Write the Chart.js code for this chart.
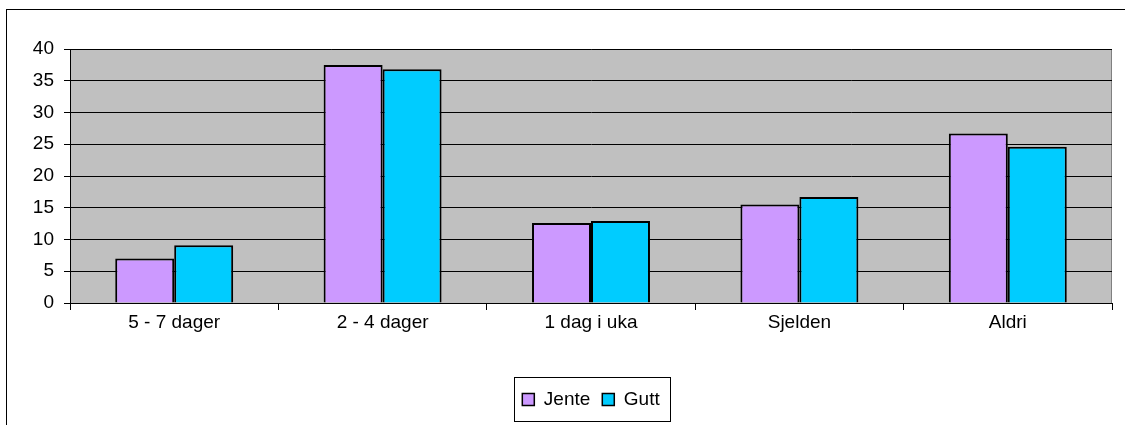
<!DOCTYPE html>
<html>
<head>
<meta charset="utf-8">
<script src="https://cdn.jsdelivr.net/npm/chart.js@4/dist/chart.umd.min.js"></script>
<style>
  html, body { margin: 0; padding: 0; background: #fff; overflow: hidden; }
  #wrap { position: relative; width: 1125px; height: 425px; }
  #frame { position: absolute; left: 6px; top: 9px; width: 1130px; height: 430px;
           border-left: 1px solid #000; border-top: 1px solid #000; pointer-events: none; }
  canvas { position: absolute; left: 0; top: 0; }
</style>
</head>
<body>
<div id="wrap">
  <canvas id="chart" width="1125" height="425"></canvas>
  <div id="frame"></div>
</div>
<script>
const categories = ['5 - 7 dager', '2 - 4 dager', '1 dag i uka', 'Sjelden', 'Aldri'];
const jente = [7.0, 37.5, 12.6, 15.5, 26.7];
const gutt = [9.1, 36.8, 12.9, 16.7, 24.6];

const FONT = { family: '"Liberation Sans", Arial, sans-serif', size: 19 };

// grey plot area like the old Excel charts
const plotBackground = {
    id: 'plotBackground',
    beforeDraw(chart) {
        const { ctx, chartArea: { left, top, right, bottom } } = chart;
        ctx.save();
        ctx.fillStyle = '#c0c0c0';
        ctx.fillRect(left, top, right - left, bottom - top);
        ctx.strokeStyle = '#808080';
        ctx.lineWidth = 1;
        ctx.strokeRect(left + 0.5, top + 0.5, right - left - 1, bottom - top);
        ctx.restore();
    }
};

// black box around the legend
const legendBox = {
    id: 'legendBox',
    afterDraw(chart) {
        const boxes = chart.legend.legendHitBoxes;
        if (!boxes || !boxes.length) return;
        const first = boxes[0];
        const last = boxes[boxes.length - 1];
        const { ctx } = chart;
        ctx.save();
        ctx.strokeStyle = '#000';
        ctx.lineWidth = 1;
        const x0 = Math.round(first.left - 8) + 0.5;
        const x1 = Math.round(last.left + last.width + 10) + 0.5;
        const y0 = Math.round(first.top - 13) + 0.5;
        const y1 = Math.round(first.top + first.height + 12) + 0.5;
        ctx.strokeRect(x0, y0, x1 - x0, y1 - y0);
        ctx.restore();
    }
};

new Chart(document.getElementById('chart').getContext('2d'), {
    type: 'bar',
    data: {
        labels: categories,
        datasets: [
            { label: 'Jente', data: jente, backgroundColor: '#cc99ff', borderColor: '#000', borderWidth: 2 },
            { label: 'Gutt', data: gutt, backgroundColor: '#00ccff', borderColor: '#000', borderWidth: 2 }
        ]
    },
    options: {
        responsive: false,
        animation: false,
        devicePixelRatio: 1,
        layout: { padding: { left: 0, right: 13, top: 49, bottom: 6 } },
        datasets: { bar: { barPercentage: 1, categoryPercentage: 0.566 } },
        plugins: {
            tooltip: { enabled: false },
            legend: {
                position: 'bottom',
                fullSize: false,
                labels: {
                    font: FONT,
                    color: '#000',
                    boxWidth: 12,
                    boxHeight: 12,
                    padding: 12,
                    generateLabels(chart) {
                        return chart.data.datasets.map((ds, i) => ({
                            text: ds.label,
                            fillStyle: ds.backgroundColor,
                            strokeStyle: '#000',
                            lineWidth: 1.5,
                            fontColor: '#000',
                            datasetIndex: i,
                            hidden: false
                        }));
                    }
                }
            }
        },
        scales: {
            x: {
                grid: { display: true, drawOnChartArea: false, offset: true, tickLength: 7, color: '#000' },
                border: { color: '#000' },
                ticks: { font: FONT, color: '#000', padding: 1, maxRotation: 0 },
                afterFit(scale) { scale.height = 75; }
            },
            y: {
                min: 0,
                max: 40,
                grid: { color: '#000', tickLength: 6 },
                border: { color: '#000' },
                ticks: { stepSize: 5, font: FONT, color: '#000', padding: 10 },
                afterFit(scale) { scale.width = 70; }
            }
        }
    },
    plugins: [plotBackground, legendBox]
});
</script>
</body>
</html>
